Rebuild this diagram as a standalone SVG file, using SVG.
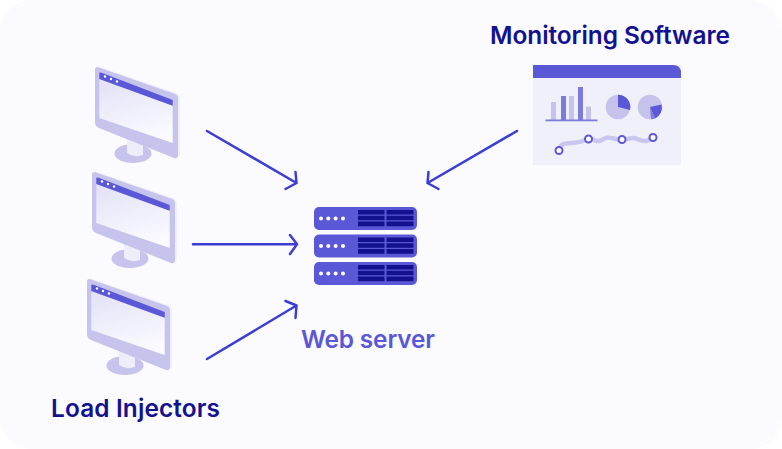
<svg xmlns="http://www.w3.org/2000/svg" width="782" height="449" viewBox="0 0 782 449">
<style>
.t{font-family:Inter,"Liberation Sans",sans-serif;font-weight:600;font-size:24.4px}
.c{fill:none;stroke:#3a3ed2;stroke-width:2.5;stroke-linecap:round;stroke-linejoin:round}
.bar{fill:#5a58d6}
.cell{fill:#14118f}
.dot{fill:#fff}
.lb{fill:#c5c3ec}
.pd{fill:#7d7bdc}
.pt{fill:#fff;stroke:#5a58d6;stroke-width:2}
</style>
<defs>
<linearGradient id="scr" x1="0.3" y1="0" x2="0.6" y2="1"><stop offset="0" stop-color="#e4e3f7"/><stop offset="1" stop-color="#fbfbff"/></linearGradient>
<g id="mon">
<ellipse cx="133" cy="153.500" rx="18.500" ry="9.500" fill="#c6c4ed"/>
<path d="M127 138V153Q134 158 143 155V140Z" fill="#eeeefb"/>
<path d="M97 66L176 93Q180 95 180 99V155L176 158Z" fill="#eeedfb"/>
<path d="M95 70Q95 66 99 67.500L175 94Q178 95 178 99V155Q178 159 174 158L99 128Q95 126.500 95 122Z" fill="#c6c4ed"/>
<path d="M99.300 79L172.700 105.700V143L99.300 118Z" fill="url(#scr)"/>
<path d="M99.300 73.500Q99.300 72 101 72.500L172.700 100V105.700L99.300 79Z" fill="#5a58d6"/>
<circle class="dot" cx="105" cy="76.500" r="1.200"/><circle class="dot" cx="111" cy="79" r="1.200"/><circle class="dot" cx="117" cy="81.500" r="1.200"/>
</g>
<g id="rack">
<rect x="314" y="207" width="103" height="23" rx="5" class="bar"/>
<circle class="dot" cx="321" cy="218.500" r="2"/><circle class="dot" cx="328.300" cy="218.500" r="2"/><circle class="dot" cx="335.600" cy="218.500" r="2"/><circle class="dot" cx="343" cy="218.500" r="2"/>
<path class="cell" d="M358 210h26.500v4.500H358zM386.500 210h27v4.500h-27zM358 215.700h26.500v4.500H358zM386.500 215.700h27v4.500h-27zM358 221.500h26.500v4.800H358zM386.500 221.500h27v4.800h-27z"/>
</g>
</defs>
<rect width="782" height="449" fill="#fff"/>
<rect x="0" y="0" width="782" height="449" rx="32" fill="#fafaff"/>
<g id="injector-1"><use href="#mon"/></g>
<g id="injector-2"><use href="#mon" x="-3" y="105"/></g>
<g id="injector-3"><use href="#mon" x="-8" y="212"/></g>
<g id="load-label"><text class="t" x="51" y="417" fill="#14118f" textLength="169">Load Injectors</text></g>
<g id="web-server">
<use href="#rack"/><use href="#rack" y="27.500"/><use href="#rack" y="55"/>
<text class="t" x="301" y="348" fill="#5a58d6" textLength="134">Web server</text>
</g>
<g id="monitoring">
<text class="t" x="490" y="44" fill="#14118f" textLength="240">Monitoring Software</text>
<rect x="533" y="65" width="148" height="100" fill="#f0f0fa"/>
<path d="M533 65H673Q681 65 681 73V78H533Z" class="bar"/>
<rect class="lb" x="551" y="102" width="5" height="18"/>
<rect class="pd" x="561" y="96" width="5" height="24"/>
<rect class="lb" x="569" y="96" width="5" height="24"/>
<rect class="pd" x="578" y="87" width="5" height="33"/>
<rect class="lb" x="586" y="106.500" width="5" height="13.500"/>
<rect class="pd" x="545.500" y="119.500" width="52" height="1.800"/>
<circle class="lb" cx="618" cy="107" r="12.300"/>
<path class="bar" d="M618 107V94.700A12.300 12.300 0 0 1 630 110Z"/>
<circle class="lb" cx="650" cy="107" r="12.300"/>
<path class="bar" d="M650 107L661.500 104.500A12.300 12.300 0 0 1 655 118.500Z"/>
<path class="pd" d="M650 107L655 118.500A12.300 12.300 0 0 1 651 119.300Z"/>
<path d="M559 150Q560 144 566 143.500C573 143 582 143 588 138.500C592 137 594 142 599 141C603 140 605 137 609 137.500C614 138 618 140 622 140C627 140 630 137.500 634 138C638 139 642 141.500 646 141C649 140.500 651 139 653 138" fill="none" stroke="#c9c7ef" stroke-width="4.500" stroke-linecap="round"/>
<circle class="pt" cx="559" cy="150.500" r="3.500"/>
<circle class="pt" cx="588.500" cy="139" r="3.500"/>
<circle class="pt" cx="622" cy="139.500" r="3.500"/>
<circle class="pt" cx="653" cy="137.500" r="3.500"/>
</g>
<g id="connectors">
<path class="c" d="M207 131L296.500 183M285.500 189L296.500 183L295.500 172"/>
<path class="c" d="M193 244.300H297M290 235L297 244.300L290 254"/>
<path class="c" d="M207 359L296.500 305.500M285.500 301L296.500 305.500L295.500 318"/>
<path class="c" d="M517 131L427.500 183M438.500 189L427.500 183L428.500 172"/>
</g>
</svg>
